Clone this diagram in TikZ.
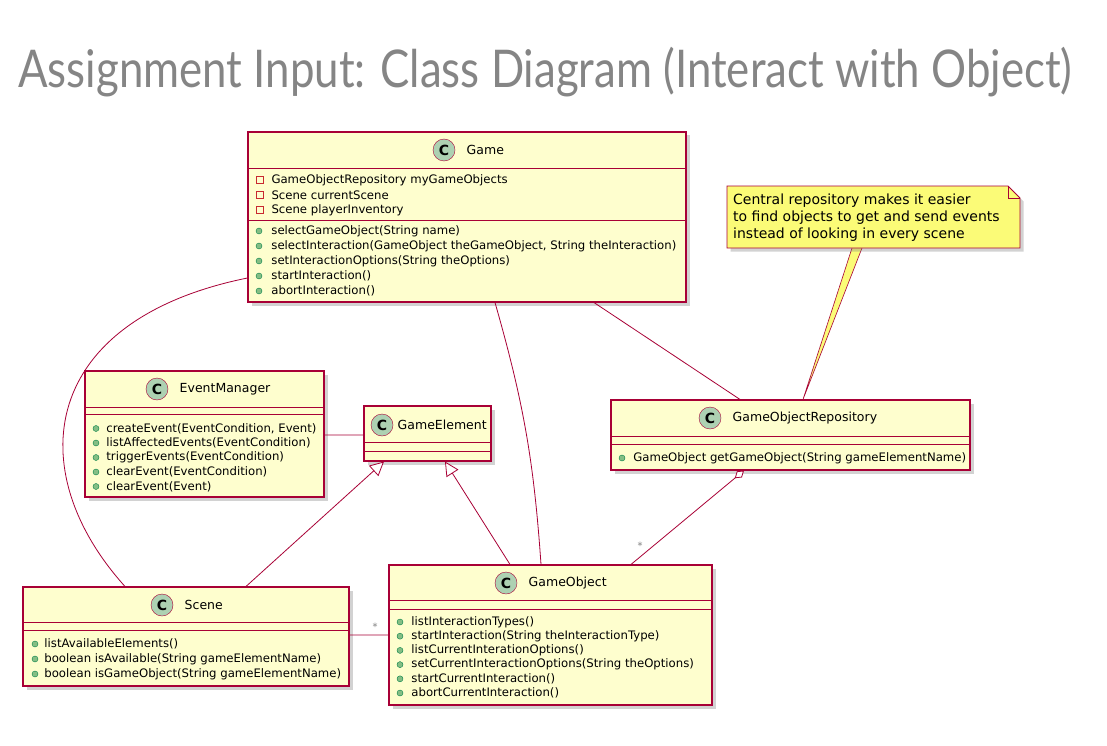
\documentclass[tikz,border=0pt]{standalone}
\usepackage{fontspec}
\setmainfont{DejaVu Sans}
\newfontfamily\titlefont{Lato}
\usetikzlibrary{arrows.meta,shadows,positioning}

\definecolor{umlred}{HTML}{A80036}
\definecolor{classfill}{HTML}{FEFECE}
\definecolor{circfill}{HTML}{ADD1B2}
\definecolor{notefill}{HTML}{FBFB77}
\definecolor{pubfill}{HTML}{84BE84}
\definecolor{pubdraw}{HTML}{038048}
\definecolor{privdraw}{HTML}{C82930}

\begin{document}
\begin{tikzpicture}[x=1pt,y=-1pt,
  classbox/.style={draw=umlred,fill=classfill,line width=1.1pt,rectangle,inner sep=0pt,
    drop shadow={opacity=0.35,shadow xshift=3.5pt,shadow yshift=-3.5pt}},
  sep/.style={draw=umlred,line width=0.8pt},
  cicon/.style={circle,draw=umlred,fill=circfill,minimum size=22pt,inner sep=0pt,
    font=\bfseries\fontsize{14}{14}\selectfont},
  cname/.style={font=\fontsize{12.5}{14}\selectfont},
  member/.style={anchor=west,inner sep=0pt,font=\fontsize{11.7}{13}\selectfont},
  pub/.style={circle,draw=pubdraw,fill=pubfill,minimum size=6pt,inner sep=0pt,line width=0.4pt},
  priv/.style={rectangle,draw=privdraw,minimum size=7pt,inner sep=0pt,line width=0.6pt},
  link/.style={draw=umlred,line width=0.8pt},
  isa/.style={-{Triangle[open,fill=white,length=14pt,width=14pt]}},
  mult/.style={inner sep=0pt,text=gray,font=\fontsize{10}{10}\selectfont},
  notebg/.style={draw=umlred,fill=notefill,line width=0.8pt,
    drop shadow={opacity=0.35,shadow xshift=3.5pt,shadow yshift=-3.5pt}},
]
\useasboundingbox[fill=white] (0,0) rectangle (1107,746);

% title
\node[anchor=base west,inner sep=0pt,text=black!48,
  font=\titlefont\fontsize{52}{52}\selectfont] (title) at (18,88)
  {\resizebox{1054pt}{\height}{Assignment Input: Class Diagram (Interact with Object)}};

% Game
\node[classbox,minimum width=438pt,minimum height=170pt] (game) at (467,217) {};
\node[cicon] (game-c) at (444,150) {C};
\node[cname,right=8pt of game-c] (game-n) {Game};
\draw[sep] (248,168) -- (686,168);
\draw[sep] (248,220) -- (686,220);
\foreach \t [count=\i] in {GameObjectRepository myGameObjects, Scene currentScene, Scene playerInventory}{
  \node[priv] (game-a\i) at (259.5,165+15*\i) {};
  \node[member,right=8pt of game-a\i] (game-at\i) {\t};
}
\foreach \t [count=\i] in {selectGameObject(String name),
  {selectInteraction(GameObject theGameObject, String theInteraction)},
  setInteractionOptions(String theOptions), startInteraction(), abortInteraction()}{
  \node[pub] (game-m\i) at (259,216+15*\i) {};
  \node[member,right=9pt of game-m\i] (game-mt\i) {\t};
}

% EventManager
\node[classbox,minimum width=239pt,minimum height=126pt] (evm) at (204.5,434) {};
\node[cicon] (evm-c) at (157,389) {C};
\node[cname,right=8pt of evm-c] (evm-n) {EventManager};
\draw[sep] (85,407) -- (324,407);
\draw[sep] (85,414) -- (324,414);
\foreach \t [count=\i] in {{createEvent(EventCondition, Event)}, listAffectedEvents(EventCondition),
  triggerEvents(EventCondition), clearEvent(EventCondition), clearEvent(Event)}{
  \node[pub] (evm-m\i) at (96,414+14.5*\i) {};
  \node[member,right=7pt of evm-m\i] (evm-mt\i) {\t};
}

% GameElement
\node[classbox,minimum width=127pt,minimum height=55pt] (gel) at (427.5,433.5) {};
\node[cicon] (gel-c) at (382,425) {C};
\node[cname,right=1pt of gel-c] (gel-n) {GameElement};
\draw[sep] (364,442) -- (491,442);
\draw[sep] (364,451) -- (491,451);

% GameObjectRepository
\node[classbox,minimum width=359pt,minimum height=70pt] (repo) at (790.5,435) {};
\node[cicon] (repo-c) at (710,418) {C};
\node[cname,right=8pt of repo-c] (repo-n) {GameObjectRepository};
\draw[sep] (611,436) -- (970,436);
\draw[sep] (611,444) -- (970,444);
\node[pub] (repo-m1) at (622,458) {};
\node[member,right=8pt of repo-m1] (repo-mt1) {GameObject getGameObject(String gameElementName)};

% Scene
\node[classbox,minimum width=326pt,minimum height=99pt] (scene) at (186,636.5) {};
\node[cicon] (scene-c) at (162,605) {C};
\node[cname,right=8pt of scene-c] (scene-n) {Scene};
\draw[sep] (23,622) -- (349,622);
\draw[sep] (23,630) -- (349,630);
\foreach \t [count=\i] in {listAvailableElements(), boolean isAvailable(String gameElementName),
  boolean isGameObject(String gameElementName)}{
  \node[pub] (scene-m\i) at (35,629+15*\i) {};
  \node[member,right=6pt of scene-m\i] (scene-mt\i) {\t};
}

% GameObject
\node[classbox,minimum width=323pt,minimum height=140pt] (gobj) at (550.5,635) {};
\node[cicon] (gobj-c) at (506,583) {C};
\node[cname,right=8pt of gobj-c] (gobj-n) {GameObject};
\draw[sep] (389,600) -- (712,600);
\draw[sep] (389,609) -- (712,609);
\foreach \t [count=\i] in {listInteractionTypes(), startInteraction(String theInteractionType),
  listCurrentInterationOptions(), setCurrentInteractionOptions(String theOptions),
  startCurrentInteraction(), abortCurrentInteraction()}{
  \node[pub] (gobj-m\i) at (400,607.8+14.2*\i) {};
  \node[member,right=8pt of gobj-m\i] (gobj-mt\i) {\t};
}

% note
\coordinate (note-foot) at (857,248);
\filldraw[fill=notefill,draw=umlred,line width=0.6pt]
  ([xshift=-5pt]note-foot) -- (repo.north -| 803,0) -- ([xshift=5pt]note-foot);
\path[notebg] (727,186) -- (1008,186) -- (1020,198) -- (1020,248) -- (727,248) -- cycle;
\draw[umlred,line width=0.6pt] (1008,186) -- (1008,198) -- (1020,198);
\node[anchor=west,inner sep=0pt,align=left,font=\fontsize{14}{17}\selectfont] (note) at (733,218)
  {Central repository makes it easier\\to find objects to get and send events\\instead of looking in every scene};

% links
\path[link]
  (game.west |- 0,278) .. controls (40,320) and (20,470) .. (scene.north -| 125,0)
  (game.south -| 495,0) to[bend left=6] (gobj.north -| 541,0)
  (game.south -| 594,0) -- (repo.north -| 740,0)
  (evm.east |- 0,435) -- (gel.west |- 0,435)
  (scene.east |- 0,635) -- (gobj.west |- 0,635)
;
\draw[link,isa] (scene.north -| 246,0) -- (gel.south -| 384,0);
\draw[link,isa] (gobj.north -| 510,0) -- (gel.south -| 445,0);
\draw[link,{Diamond[open,fill=white,length=12pt,width=8pt]}-] (repo.south -| 744,0) -- (gobj.north -| 631,0);
\node[mult] (m-scene) at (375,627) {*};
\node[mult] (m-repo) at (640,546) {*};
\end{tikzpicture}
\end{document}
